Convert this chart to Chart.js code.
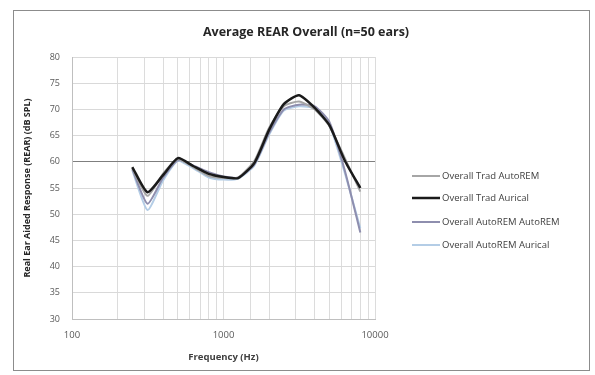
<!DOCTYPE html>
<html>
<head>
<meta charset="utf-8">
<script src="https://cdn.jsdelivr.net/npm/chart.js@4.4.1/dist/chart.umd.min.js"></script>
<style>
html,body{margin:0;padding:0;background:#fff;}
#wrap{width:595px;height:375px;position:relative;}
</style>
</head>
<body>
<div id="wrap"><canvas id="c" width="595" height="375"></canvas></div>
<script>
const titleText = 'Average REAR Overall (n=50 ears)';
const xTitle = 'Frequency (Hz)';
const yTitle = 'Real Ear Aided Response (REAR) (dB SPL)';
const frequencies = [250,315,400,500,630,800,1000,1250,1600,2000,2500,3150,4000,5000,6300,8000];
const seriesNames = ['Overall Trad AutoREM','Overall Trad Aurical','Overall AutoREM AutoREM','Overall AutoREM Aurical'];
const tradAutoREM    = [58.8,53.5,57.8,60.5,59.0,57.3,56.9,57.0,60.2,66.5,70.6,71.5,70.0,66.8,60.8,54.3];
const tradAurical    = [59.0,54.2,57.5,60.7,59.2,57.7,57.1,56.9,59.8,66.1,71.0,72.7,70.3,67.0,60.3,55.0];
const autoREMAutoREM = [58.6,52.0,57.0,60.3,59.3,58.0,57.2,57.0,59.5,65.5,70.0,70.9,70.6,67.6,58.5,46.5];
const autoREMAurical = [58.4,50.8,56.5,60.2,58.8,57.0,56.6,56.8,59.3,65.2,69.8,70.6,70.2,67.0,58.0,47.3];
const yTicks = [30,35,40,45,50,55,60,65,70,75,80];
const xLabels = [100,1000,10000];

const colors = ['#a6a6a6','#1a1a1a','#8e8eae','#b4cde6'];
const widths = [2,2.5,2,2];
const seriesData = [tradAutoREM, tradAurical, autoREMAutoREM, autoREMAurical];

const datasets = seriesData.map((arr,i)=>({
  label: seriesNames[i],
  data: frequencies.map((f,j)=>({x:f,y:arr[j]})),
  borderColor: colors[i],
  backgroundColor: colors[i],
  borderWidth: widths[i],
  pointRadius: 0,
  tension: 0.2,
  fill: false,
  order: i===1 ? 0 : 1
}));

const FONT = '"Open Sans", Lato, sans-serif';

const decor = {
  id: 'decor',
  afterDraw(chart){
    const ctx = chart.ctx;
    ctx.save();
    // frame
    ctx.strokeStyle = '#8c8c8c';
    ctx.lineWidth = 1;
    ctx.strokeRect(13.5, 10.5, 576, 360);
    // title
    ctx.fillStyle = '#262626';
    ctx.font = 'bold 12.5px ' + FONT;
    ctx.textAlign = 'center';
    ctx.textBaseline = 'middle';
    ctx.fillText(titleText, 306, 32);
    // legend
    ctx.font = '9.5px ' + FONT;
    ctx.textAlign = 'left';
    const ys = [176,198,222,245];
    chart.data.datasets.forEach((ds,i)=>{
      ctx.strokeStyle = ds.borderColor;
      ctx.lineWidth = ds.borderWidth;
      ctx.beginPath();
      ctx.moveTo(412, ys[i]);
      ctx.lineTo(440, ys[i]);
      ctx.stroke();
      ctx.fillStyle = '#404040';
      ctx.fillText(ds.label, 442, ys[i]);
    });
    ctx.restore();
  }
};

new Chart(document.getElementById('c'), {
  type: 'line',
  data: { datasets },
  options: {
    responsive: false,
    animation: false,
    layout: { padding: { left: 20, right: 220, top: 57, bottom: 10 } },
    plugins: { legend: { display: false }, title: { display: false }, tooltip: { enabled: false } },
    scales: {
      x: {
        type: 'logarithmic',
        min: 100, max: 10000,
        afterFit(s){ s.height = 46; },
        grid: { color: '#dcdcdc', drawTicks: false },
        border: { color: '#bfbfbf' },
        ticks: {
          autoSkip: false, maxRotation: 0, padding: 11,
          color: '#595959', font: { family: FONT, size: 9.5 },
          callback(v){ return xLabels.includes(v) ? String(v) : ''; }
        },
        title: { display: true, text: xTitle, color: '#404040', font: { family: FONT, size: 9.5, weight: 'bold' }, padding: { top: 2, bottom: 2 } }
      },
      y: {
        min: 30, max: 80,
        afterFit(s){ s.width = 52; },
        afterBuildTicks(s){ s.ticks = yTicks.map(v=>({value:v})); },
        grid: { color: (c)=> c.tick && c.tick.value===60 ? '#7f7f7f' : '#d9d9d9', drawTicks: false },
        border: { color: '#bfbfbf' },
        ticks: { padding: 12, color: '#595959', font: { family: FONT, size: 9 } },
        title: { display: true, text: yTitle, color: '#262626', font: { family: FONT, size: 9, weight: 'bold' }, padding: { top: 2 } }
      }
    }
  },
  plugins: [decor]
});
</script>
</body>
</html>
